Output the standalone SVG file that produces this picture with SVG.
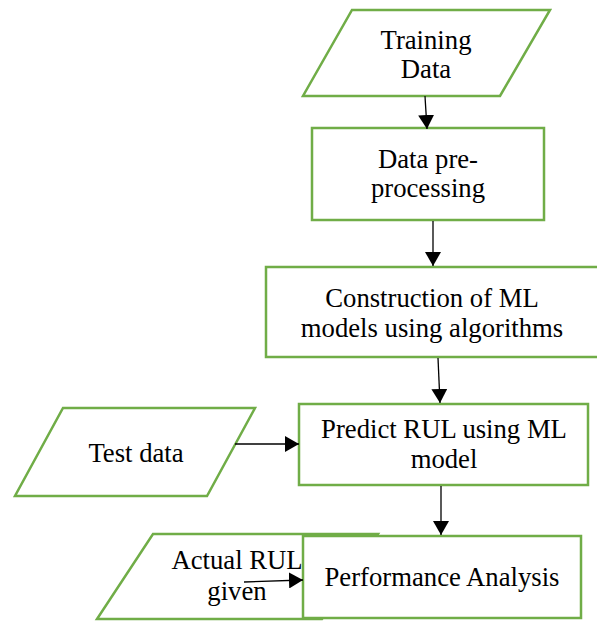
<svg xmlns="http://www.w3.org/2000/svg" width="597" height="622" viewBox="0 0 597 622">
<style>
.box{fill:#fff;stroke:#70AD47;stroke-width:2.5}
.t{font-family:'Liberation Serif','DejaVu Serif',serif;font-size:26.7px;fill:#000;text-anchor:middle}
.c{stroke:#000;stroke-width:1.3;fill:none}
</style>
<defs>
<marker id="ah" markerWidth="14" markerHeight="16" refX="14" refY="8" orient="auto" markerUnits="userSpaceOnUse" viewBox="0 0 14 16">
<path d="M0,0 L14,8 L0,16 Z" fill="#000"/>
</marker>
</defs>
<rect width="597" height="622" fill="#fff"/>
<g id="training">
<polygon class="box" points="352,10 550,10 500,96 303,96"/>
<text class="t" x="426" y="49">Training</text>
<text class="t" x="426" y="78">Data</text>
</g>
<g id="preprocessing">
<rect class="box" x="312" y="128" width="232" height="92"/>
<text class="t" x="428" y="168">Data pre-</text>
<text class="t" x="428" y="197">processing</text>
</g>
<g id="construction">
<rect class="box" x="266" y="267" width="334" height="90"/>
<text class="t" x="432" y="307">Construction of ML</text>
<text class="t" x="432" y="337">models using algorithms</text>
</g>
<g id="predict">
<rect class="box" x="299" y="404" width="289" height="81"/>
<text class="t" x="444" y="438">Predict RUL using ML</text>
<text class="t" x="444" y="468">model</text>
</g>
<g id="testdata">
<polygon class="box" points="63,408 255,408 207,496 15,496"/>
<text class="t" x="136" y="462">Test data</text>
</g>
<g id="actualrul">
<polygon class="box" points="153,534 378,534 322,619 97,619"/>
<text class="t" x="237" y="569">Actual RUL</text>
<text class="t" x="237" y="600">given</text>
</g>
<g id="performance">
<rect class="box" x="303" y="536" width="278" height="82"/>
<text class="t" x="442" y="586">Performance Analysis</text>
</g>
<g id="connectors">
<line class="c" x1="425" y1="96" x2="427" y2="129" marker-end="url(#ah)"/>
<line class="c" x1="433" y1="221" x2="433" y2="266" marker-end="url(#ah)"/>
<line class="c" x1="438" y1="358" x2="440" y2="403" marker-end="url(#ah)"/>
<line class="c" x1="441" y1="486" x2="441" y2="535" marker-end="url(#ah)"/>
<line class="c" x1="235" y1="444" x2="299" y2="444" marker-end="url(#ah)"/>
<line class="c" x1="244" y1="582" x2="303" y2="580" marker-end="url(#ah)"/>
</g>
</svg>
